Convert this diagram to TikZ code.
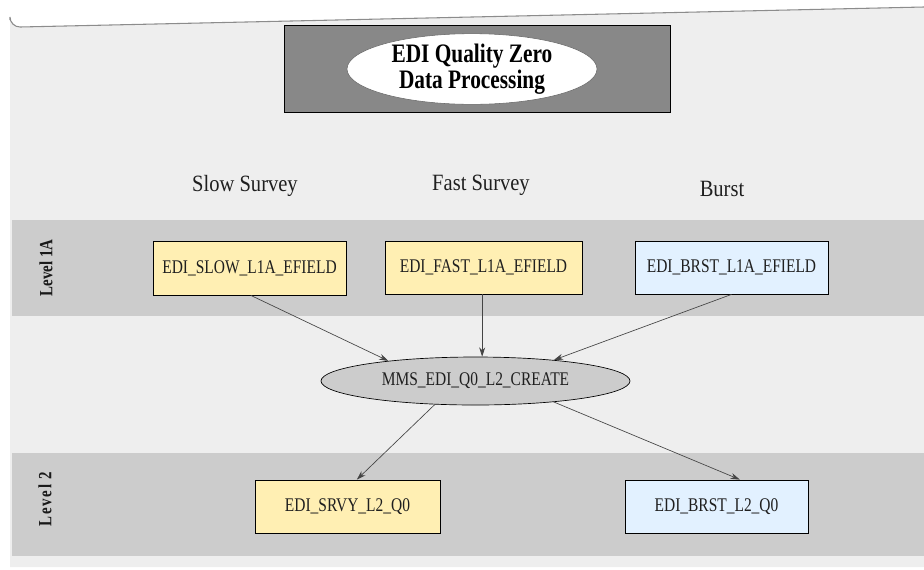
\documentclass[tikz,border=0pt]{standalone}
\usepackage{fontspec}
\setmainfont{Liberation Serif}
\newfontfamily\narrowA[FakeStretch=0.8]{Liberation Serif}
\newfontfamily\narrowB[FakeStretch=0.88]{Liberation Serif}
\newfontfamily\narrowC[FakeStretch=0.8,LetterSpace=9]{Liberation Serif}
\usetikzlibrary{shapes.geometric,arrows.meta}
\definecolor{bgc}{HTML}{EEEEEE}
\definecolor{bandc}{HTML}{CCCCCC}
\definecolor{titlec}{HTML}{888888}
\definecolor{yel}{HTML}{FFEFB3}
\definecolor{blu}{HTML}{E2F1FF}
\definecolor{linec}{HTML}{444444}
\tikzset{
  databox/.style={draw=black, line width=0.6pt, rectangle, inner sep=0pt, minimum height=39.75pt,
    font=\narrowA\fontsize{14.5pt}{16pt}\selectfont, text=black!88},
  yelbox/.style={databox, fill=yel},
  blubox/.style={databox, fill=blu},
  procnode/.style={draw=black, line width=0.5pt, ellipse, fill=bandc, inner sep=0pt,
    minimum width=231.75pt, minimum height=36pt, font=\narrowA\fontsize{14.5pt}{16pt}\selectfont, text=black!88},
  collabel/.style={font=\narrowB\fontsize{17.5pt}{19pt}\selectfont, text=black!88},
  levlabel/.style={rotate=90, font=\narrowA\bfseries\fontsize{14pt}{16pt}\selectfont, text=black!90},
  flow/.style={draw=linec, line width=0.5pt, -{Stealth[length=7pt,width=4.5pt]}},
}
\begin{document}
\begin{tikzpicture}[x=0.75pt, y=-0.75pt]
\useasboundingbox (0,0) rectangle (924,569);
% background
\fill[bgc] (10,567) -- (10,17) arc[start angle=180, end angle=90, radius=10] -- (924,7) -- (924,567) -- cycle;
\draw[black!45, line width=0.8pt] (10,20) -- (10,17) arc[start angle=180, end angle=90, radius=10] -- (924,7);
% bands
\fill[bandc] (12,220) rectangle (924,316);
\fill[bandc] (12,453) rectangle (924,556);
% title
\draw[fill=titlec, draw=black, line width=0.7pt] (284,25) rectangle (670,112);
\node[draw=black!60, line width=0.4pt, fill=white, ellipse, inner sep=0pt, minimum width=187.5pt, minimum height=52.5pt,
  align=center, font=\narrowA\bfseries\fontsize{20pt}{16.5pt}\selectfont] (title) at (472,69)
  {EDI Quality Zero\\Data Processing};
% column labels
\node[collabel] (cslow) at (245,186) {Slow Survey};
\node[collabel] (cfast) at (481,185) {Fast Survey};
\node[collabel] (cbrst) at (722,189) {Burst};
% level labels
\node[levlabel] (lev1) at (46,268) {Level 1A};
\node[levlabel, font=\narrowC\bfseries\fontsize{14pt}{16pt}\selectfont] (lev2) at (45,499) {Level 2};
% boxes
\node[yelbox, minimum width=144.75pt, minimum height=40.5pt] (slow) at (249.5,268) {EDI\_SLOW\_L1A\_EFIELD};
\node[yelbox, minimum width=147.75pt] (fast) at (483.5,267.5) {EDI\_FAST\_L1A\_EFIELD};
\node[blubox, minimum width=144.75pt] (brst) at (731.5,267.5) {EDI\_BRST\_L1A\_EFIELD};
\node[procnode] (create) at (475.5,381) {MMS\_EDI\_Q0\_L2\_CREATE};
\node[yelbox, minimum width=138.75pt] (srvy) at (347.5,506.5) {EDI\_SRVY\_L2\_Q0};
\node[blubox, minimum width=137.25pt] (brst2) at (716.5,506.5) {EDI\_BRST\_L2\_Q0};
% connectors
\draw[flow] ([xshift=1pt]slow.south) -- (create.167);
\draw[flow] ([xshift=-1pt]fast.south) -- ([xshift=-1pt]fast.south |- create.north);
\draw[flow] (brst.south) -- (create.15);
\draw[flow] (create.210) -- ([xshift=7pt]srvy.north);
\draw[flow] (create.345.5) -- ([xshift=17.5pt]brst2.north);
\end{tikzpicture}
\end{document}
